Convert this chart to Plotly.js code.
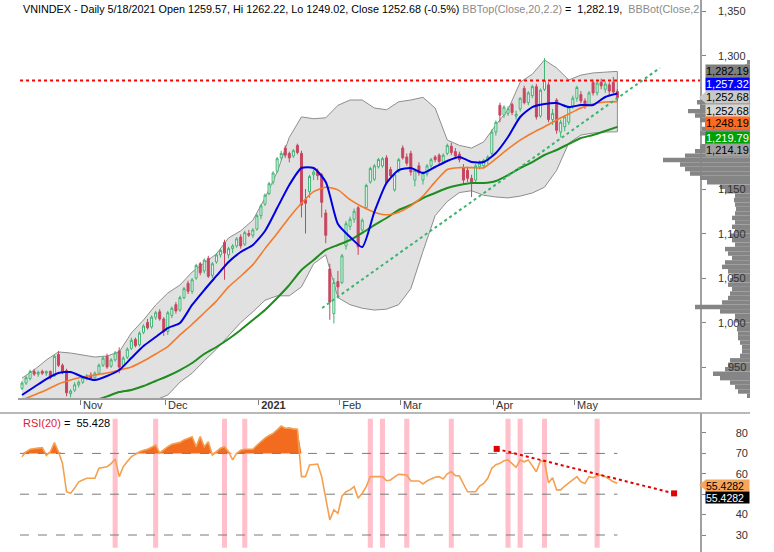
<!DOCTYPE html>
<html><head><meta charset="utf-8">
<script src="https://cdn.plot.ly/plotly-3.0.1.min.js"></script>
<style>html,body{margin:0;padding:0;background:#fff;}#chart{width:774px;height:552px;}</style>
</head><body><div id="chart"></div>
<script>
// ---------- DATA ----------
// daily bars, Oct 12 2020 .. May 18 2021 (bar index 0..147)
const open  = [926,932,937,945,942,945,943,945,940,964,952,946,920,924,930,933,938,941,938,943,952,962,951,958,968,952,961,971,981,975,989,1000,995,1006,1012,1004,990,1008,1020,1014,1028,1044,1035,1050,1066,1058,1072,1053,1068,1076,1090,1076,1083,1086,1096,1088,1100,1098,1105,1120,1133,1145,1158,1170,1185,1196,1190,1187,1199,1190,1138,1147,1166,1170,1166,1123,1060,1010,1046,1045,1086,1108,1116,1129,1104,1129,1158,1161,1175,1176,1185,1172,1149,1170,1196,1186,1190,1160,1176,1160,1167,1176,1186,1188,1180,1190,1198,1192,1189,1174,1171,1162,1160,1175,1176,1182,1190,1214,1244,1233,1235,1245,1232,1240,1263,1247,1255,1265,1232,1262,1267,1228,1250,1214,1220,1225,1243,1252,1256,1249,1245,1270,1258,1270,1262,1267,1270,1259.57];
const high  = [934,940,947,948,946,947,946,946,964,968,954,948,925,933,935,940,942,944,945,954,962,965,960,968,972,962,972,983,983,990,998,1004,1008,1013,1015,1006,1013,1018,1023,1030,1040,1047,1050,1066,1068,1072,1075,1068,1078,1083,1093,1085,1088,1096,1099,1103,1104,1106,1122,1133,1145,1158,1170,1186,1193,1199,1192,1195,1201,1193,1150,1166,1172,1173,1168,1127,1066,1050,1058,1077,1114,1119,1128,1131,1117,1156,1175,1178,1185,1186,1188,1175,1168,1185,1199,1190,1193,1173,1180,1170,1178,1185,1188,1190,1190,1201,1202,1196,1192,1178,1175,1166,1178,1182,1184,1188,1217,1227,1247,1244,1243,1247,1238,1253,1266,1260,1267,1268,1263,1297,1270,1240,1252,1228,1233,1243,1255,1266,1260,1252,1260,1273,1272,1274,1271,1270,1276,1262.22];
const low   = [924,930,935,940,939,941,940,936,939,950,942,917,916,922,927,931,935,936,937,941,950,948,949,956,943,950,959,969,972,973,987,992,993,1003,1002,985,986,1005,1010,1012,1026,1032,1032,1048,1053,1055,1050,1050,1066,1073,1048,1072,1078,1084,1083,1086,1096,1095,1103,1116,1131,1143,1155,1168,1182,1185,1180,1185,1189,1118,1100,1140,1160,1160,1118,1089,1003,999,1030,1043,1082,1104,1112,1076,1100,1127,1156,1159,1173,1174,1155,1163,1147,1168,1183,1176,1165,1153,1165,1155,1164,1173,1180,1178,1178,1188,1188,1185,1180,1155,1158,1141,1157,1172,1173,1178,1188,1210,1225,1230,1232,1233,1228,1237,1245,1244,1252,1228,1230,1260,1225,1222,1212,1208,1215,1222,1240,1248,1246,1240,1243,1255,1255,1262,1258,1256,1257,1249.02];
const close = [932,938,945,942,944,943,945,938,962,952,944,921,923,930,933,938,940,938,943,952,960,950,958,966,950,960,970,980,974,988,996,994,1006,1011,1004,990,1011,1016,1013,1028,1038,1035,1048,1064,1056,1070,1052,1066,1076,1081,1078,1083,1086,1094,1086,1101,1098,1104,1120,1131,1143,1156,1168,1184,1190,1188,1185,1193,1191,1132,1134,1164,1169,1165,1135,1098,1023,1045,1040,1075,1111,1116,1125,1085,1115,1154,1173,1176,1183,1184,1157,1165,1166,1183,1185,1179,1169,1171,1168,1168,1176,1183,1183,1181,1188,1199,1191,1187,1183,1160,1162,1158,1176,1179,1182,1186,1214,1225,1233,1242,1240,1236,1234,1252,1247,1258,1265,1231,1261,1272,1228,1235,1216,1225,1231,1242,1252,1264,1249,1243,1258,1258,1269,1266,1268,1260,1259,1252.68];

// indicator lines, sampled every 3rd bar
const bbTop  = [937.6,946.6,957.9,966.9,965.7,963.5,961.2,962.4,966.9,988.2,1002.8,1019.7,1033.1,1042.1,1056.7,1067,1077,1095,1103,1115,1140,1169,1208,1231,1229,1230,1244,1250,1250,1241,1239,1248,1250,1253,1241,1205,1199,1196,1203,1222,1239,1270,1279,1295,1286,1272.5,1278,1280.4,1281.5,1282.19];
const bbBot  = [888,890,891,895,900,903,905,907,909,910,911,913,918.5,933,943,957,970,985,1000,1012,1025,1030,1030,1040,1066,1076,1028,1020,1016,1014,1015,1020,1038,1080,1120,1136,1146,1148,1143,1141,1140,1142,1145.5,1152,1171,1201.7,1210.6,1212.9,1214,1214.19];
const sma20  = [912.9,918.5,924.2,930.9,935.4,938.8,941,943.3,946.6,950,956.7,964.6,973,986,998,1011,1024,1040,1052,1065,1083,1100,1118,1134,1147,1152,1149,1138,1130,1124,1121,1124,1131,1142,1158,1172,1174,1174,1174,1184,1195,1205,1213,1220,1227.5,1234.3,1241,1245.5,1247.8,1248.19];
const fastMA = [918.5,927.5,936.5,943.3,944.4,938.8,935.4,939.9,946.6,960.1,973.6,983.7,993.8,999.4,1019.7,1036.5,1052.3,1068,1079.2,1087.1,1102.8,1128.6,1154.5,1173.6,1173.6,1157.9,1110.7,1096.1,1084.8,1124.2,1156.7,1171.3,1173.6,1168,1174.7,1181.5,1186,1180.3,1180.3,1190.5,1208.4,1230.9,1242.1,1245.5,1246.6,1242.1,1244.4,1244.4,1253.4,1257.32];
const sma50  = [899,901.5,903.5,905.5,907.5,909.5,912.5,917,921.9,924.2,928.6,934.3,939.9,946.6,954.5,964.6,972.5,981.5,991.6,1002.8,1014.1,1027.5,1042.1,1059,1070.2,1081.5,1087.1,1092.7,1100.6,1109.5,1117.4,1126.4,1132,1139.9,1145.5,1151.1,1154.5,1156.7,1156.7,1159,1165.7,1173.6,1180.3,1188.2,1193.8,1200.6,1207.3,1210.7,1215.2,1219.79];

// RSI(20), one value per bar
const rsi = [68.4,70.8,72.0,72.4,72.6,72.8,69.0,70.8,75.3,70.8,65.1,51.2,50.4,53.0,56.1,57.0,57.8,57.8,57.8,62.7,63.0,63.5,65.0,67.3,58.6,63.5,66.0,68.4,69.5,70.8,71.5,72.0,73.0,74.1,70.2,72.0,73.3,74.5,75.0,75.4,76.6,77.5,78.2,73.3,78.2,73.3,75.7,69.2,71.0,72.5,73.3,70.8,66.8,70.0,71.5,72.0,72.0,72.0,74.0,76.0,77.5,78.8,79.8,81.5,83.4,82.3,82.5,82.0,81.8,58.6,58.6,64.3,64.5,64.8,58.6,48.0,37.4,42.3,40.6,49.0,51.2,52.1,53.7,48.0,50.5,53.7,58.6,58.6,58.6,58.6,56.6,57.0,58.5,59.8,59.6,59.4,56.5,56.5,56.5,55.0,56.5,57.5,58.3,58.6,57.5,60.0,61.0,59.1,58.9,55.0,51.2,51.2,51.2,54.0,55.3,57.8,62.7,64.5,65.1,66.4,66.8,65.0,63.2,66.8,65.9,66.8,64.0,61.0,66.4,65.9,55.6,58.1,52.1,52.1,54.0,55.5,57.0,58.6,56.1,55.3,58.6,58.1,59.0,59.4,58.6,57.5,56.1,55.4282];
const rsiLevels = [70, 50, 30];
const signalBars = [23,33,50,55,86,89,95,106,120,123,129,142];

// drawn studies
const resistanceLevel = 1272;
const priceTrendX = [74.1, 157.5], priceTrendY = [1016.3, 1286];
const rsiTrendX = [117.2, 161], rsiTrendY = [72.2, 50.4];

// volume-by-price profile, 5-point bins starting at 917.5
const profileVol = [3,12,15,20,30,37,25,22,20,10,8,8,10,12,12,13,12,15,15,30,55,28,22,20,18,22,20,18,22,28,25,18,22,25,15,18,20,15,18,15,18,15,14,15,16,15,25,30,43,50,60,65,70,87,65,55,50,45,45,50,48,45,50,55,62,50,53,45,35,30,25,20,15,10,5,3];

// axes
const monthTickPos  = [14.5, 35.5, 58.5, 78.5, 93.5, 116.5, 136.5];
const monthTickText = ['Nov','Dec','<b>2021</b>','Feb','Mar','Apr','May'];
const priceTicks = [950,1000,1050,1100,1150,1200,1250,1300,1350];
const priceTickLabels = [950,1000,1050,1100,1150,1300,1350];   // 1,200 and 1,250 sit under the value boxes
const rsiTicks = [30,40,50,60,70,80];
const rsiTickLabels = [30,40,60,70,80];                          // 50 sits under the value box

// ---------- BUILD ----------
const W = 774, H = 552;
const N = close.length, last = N - 1;
const bars = close.map((_, i) => i);
const sampleIdx = bbTop.map((_, k) => 3 * k);
const profilePrice = profileVol.map((_, k) => 917.5 + 5 * k);
const fmt2 = v => v.toLocaleString('en-US', {minimumFractionDigits: 2, maximumFractionDigits: 2});
const fmt0 = v => v.toLocaleString('en-US');
const XR = [-0.988, 167.4];
const PR = [915.17, 1362.36];
const RR = [21.67, 89.8];
const px = x => x / W, py = y => 1 - y / H;
const SP = '\u00A0';

const traces = [
  {type:'scatter', x: sampleIdx.concat(sampleIdx.slice().reverse()), y: bbTop.concat(bbBot.slice().reverse()),
   fill:'toself', fillcolor:'#e1e1e1', mode:'lines', line:{color:'#8e8e8e', width:1}, hoverinfo:'skip'},
  {type:'candlestick', x: bars, open, high, low, close, whiskerwidth:0, yaxis:'y5',
   increasing:{line:{color:'#3cb371', width:1}, fillcolor:'#ffffff'},
   decreasing:{line:{color:'#c8455f', width:1}, fillcolor:'#c8455f'}, hoverinfo:'skip'},
  {type:'scatter', x: sampleIdx, y: sma50, yaxis:'y5', mode:'lines', line:{color:'#1e8c1e', width:2, shape:'spline', smoothing:0.6}},
  {type:'scatter', x: sampleIdx, y: sma20, yaxis:'y5', mode:'lines', line:{color:'#f47a2a', width:1.6, shape:'spline', smoothing:0.6}},
  {type:'scatter', x: sampleIdx, y: fastMA, yaxis:'y5', mode:'lines', line:{color:'#0000e0', width:2, shape:'spline', smoothing:0.6}},
  {type:'scatter', x: [XR[0] + 0.5, XR[1]], y: [resistanceLevel, resistanceLevel], yaxis:'y5', mode:'lines', line:{color:'#ff0000', width:2, dash:'dot'}},
  {type:'scatter', x: priceTrendX, y: priceTrendY, yaxis:'y5', mode:'lines', line:{color:'#3cb371', width:2, dash:'dot'}},
  {type:'bar', orientation:'h', x: profileVol, y: profilePrice, width:5, xaxis:'x3', yaxis:'y',
   marker:{color:'#858585', line:{width:0}}, hoverinfo:'skip'},
  {type:'bar', x: signalBars, y: signalBars.map(() => 63.3), base: 23.7, width: 1.25, xaxis:'x2', yaxis:'y2',
   marker:{color:'#ffc0cb', line:{width:0}}, hoverinfo:'skip'},
  {type:'scatter', x: bars, y: bars.map(() => 70), xaxis:'x2', yaxis:'y2', mode:'lines', line:{width:0, color:'rgba(0,0,0,0)'}, hoverinfo:'skip'},
  {type:'scatter', x: bars, y: rsi.map(v => Math.max(v, 70)), xaxis:'x2', yaxis:'y2', mode:'lines', fill:'tonexty',
   fillcolor:'#f26b1f', line:{width:0, color:'rgba(0,0,0,0)'}, hoverinfo:'skip'},
  ...rsiLevels.map(l => ({type:'scatter', x:[-0.5, last], y:[l, l], xaxis:'x2', yaxis:'y2', mode:'lines',
   line:{color:'#7a7a7a', width:1, dash:'dash'}, hoverinfo:'skip'})),
  {type:'scatter', x: bars, y: rsi, xaxis:'x2', yaxis:'y2', mode:'lines', line:{color:'#f4a050', width:1.6}, hoverinfo:'skip'},
  {type:'scatter', x: rsiTrendX, y: rsiTrendY, xaxis:'x2', yaxis:'y2', mode:'lines+markers',
   line:{color:'#e00000', width:2, dash:'dot'}, marker:{symbol:'square', size:6, color:'#e00000'}, hoverinfo:'skip'},
  {type:'scatter', x:[0], y:[50], xaxis:'x2', yaxis:'y4', mode:'markers', marker:{opacity:0}, hoverinfo:'skip'}
];

const axLine = '#a0a0a0';
const layout = {
  width: W, height: H, margin:{l:0, r:0, t:0, b:0}, paper_bgcolor:'#ffffff', plot_bgcolor:'rgba(0,0,0,0)',
  showlegend:false, barmode:'overlay', hovermode:false,
  font:{family:'Liberation Sans, Arial, sans-serif', size:11, color:'#333'},
  xaxis:{domain:[px(18), px(700)], range:XR, anchor:'y', showgrid:false, zeroline:false, showline:true,
    linecolor:axLine, linewidth:1.5, ticks:'outside', ticklen:5, tickcolor:'#808080', tickwidth:1,
    tickvals:monthTickPos, ticktext:monthTickText, ticklabelposition:'outside right', ticklabelshift:1,
    ticklabelstandoff:-4, tickfont:{size:11, color:'#333'}, rangeslider:{visible:false}},
  yaxis:{domain:[py(398), 1], range:PR, side:'right', anchor:'x', showgrid:false, zeroline:false,
    showline:true, linecolor:axLine, linewidth:2, ticks:'outside', ticklen:4, tickcolor:'#808080',
    tickvals:priceTicks, showticklabels:false},
  yaxis5:{overlaying:'y', side:'right', anchor:'x', range:PR, visible:false},
  xaxis2:{domain:[px(18), px(700)], range:XR, anchor:'y2', showgrid:false, zeroline:false, showline:false,
    showticklabels:false, ticks:'', rangeslider:{visible:false}},
  yaxis2:{domain:[0, py(413)], range:RR, side:'right', anchor:'x2', showgrid:false, zeroline:false,
    showline:true, linecolor:axLine, linewidth:2, ticks:'outside', ticklen:4, tickcolor:'#808080',
    tickvals:rsiTicks, showticklabels:false},
  yaxis4:{overlaying:'y2', anchor:'free', position:px(748), side:'left', range:RR, showgrid:false, zeroline:false,
    showline:false, ticks:'', tickvals:rsiTickLabels, tickfont:{size:11, color:'#333'}},
  xaxis3:{domain:[px(18), px(750)], range:[732, 0], anchor:'y', visible:false},
  shapes:[
    {type:'line', xref:'paper', yref:'paper', x0:0, x1:px(750), y0:py(413), y1:py(413), line:{color:axLine, width:1.5}},
    {type:'path', xref:'paper', yref:'paper', path:`M ${px(699)},${py(97.5)} L ${px(706)},${py(91.5)} L ${px(706)},${py(103.5)} Z`, fillcolor:'#c8c8c8', line:{width:0}},
    {type:'path', xref:'paper', yref:'paper', path:`M ${px(699)},${py(485)} L ${px(706)},${py(479.5)} L ${px(706)},${py(490.5)} Z`, fillcolor:'#f5a65b', line:{width:0}}
  ],
  annotations:[]
};

priceTickLabels.forEach(v => layout.annotations.push({xref:'paper', yref:'y', x:px(748), y:v, xanchor:'right',
  yanchor:'middle', showarrow:false, text:fmt0(v), font:{size:11, color:'#333'}}));

const pct = ((close[last] / close[last - 1] - 1) * 100).toFixed(1);
const gray = s => `<span style="color:#8a8a8a">${s}</span>`;
layout.annotations.push({xref:'paper', yref:'paper', x:px(21), y:py(9), xanchor:'left', yanchor:'middle', showarrow:false,
  font:{size:10.8, color:'#000'},
  text:`VNINDEX - Daily 5/18/2021 Open ${open[last]}, Hi ${high[last]}, Lo ${low[last]}, Close ${close[last]} (${pct}%) ` +
       gray('BBTop(Close,20,2.2)') + `${SP}=${SP}${SP}${fmt2(bbTop[bbTop.length-1])},${SP}${SP}` + gray('BBBot(Close,2')});
layout.annotations.push({xref:'paper', yref:'paper', x:px(21), y:py(423), xanchor:'left', yanchor:'middle', showarrow:false,
  font:{size:11, color:'#000'}, text:`<span style="color:#e0203a">RSI(20)</span> =  ${rsi[last].toFixed(3)}`});

const boxes = [
  [fmt2(bbTop[bbTop.length-1]), 71, 12, '#7f7f7f', '#000'],
  [fmt2(fastMA[fastMA.length-1]), 83.5, 12, '#0000ff', '#fff'],
  [fmt2(close[last]), 97.5, 12, '#c8c8c8', '#000'],
  [fmt2(close[last]), 111, 12, '#d6d6d6', '#000'],
  [fmt2(sma20[sma20.length-1]), 123.5, 12, '#ff6a1f', '#000'],
  [fmt2(sma50[sma50.length-1]), 137.5, 12, '#00a000', '#fff'],
  [fmt2(bbBot[bbBot.length-1]), 150, 12, '#a0a0a0', '#000'],
  [rsi[last].toFixed(4), 485, 11, '#f5a65b', '#000'],
  [rsi[last].toFixed(4), 497.5, 11, '#000000', '#fff']
];
boxes.forEach(([t, y, h, bg, fc]) => layout.annotations.push({xref:'paper', yref:'paper', x:px(705), y:py(y),
  xanchor:'left', yanchor:'middle', showarrow:false, text:t, bgcolor:bg, width:43, height:h, align:'left',
  borderpad:0, font:{size:h === 11 ? 10.5 : 11, color:fc}}));

Plotly.newPlot('chart', traces, layout, {staticPlot:true, displayModeBar:false});
</script></body></html>
